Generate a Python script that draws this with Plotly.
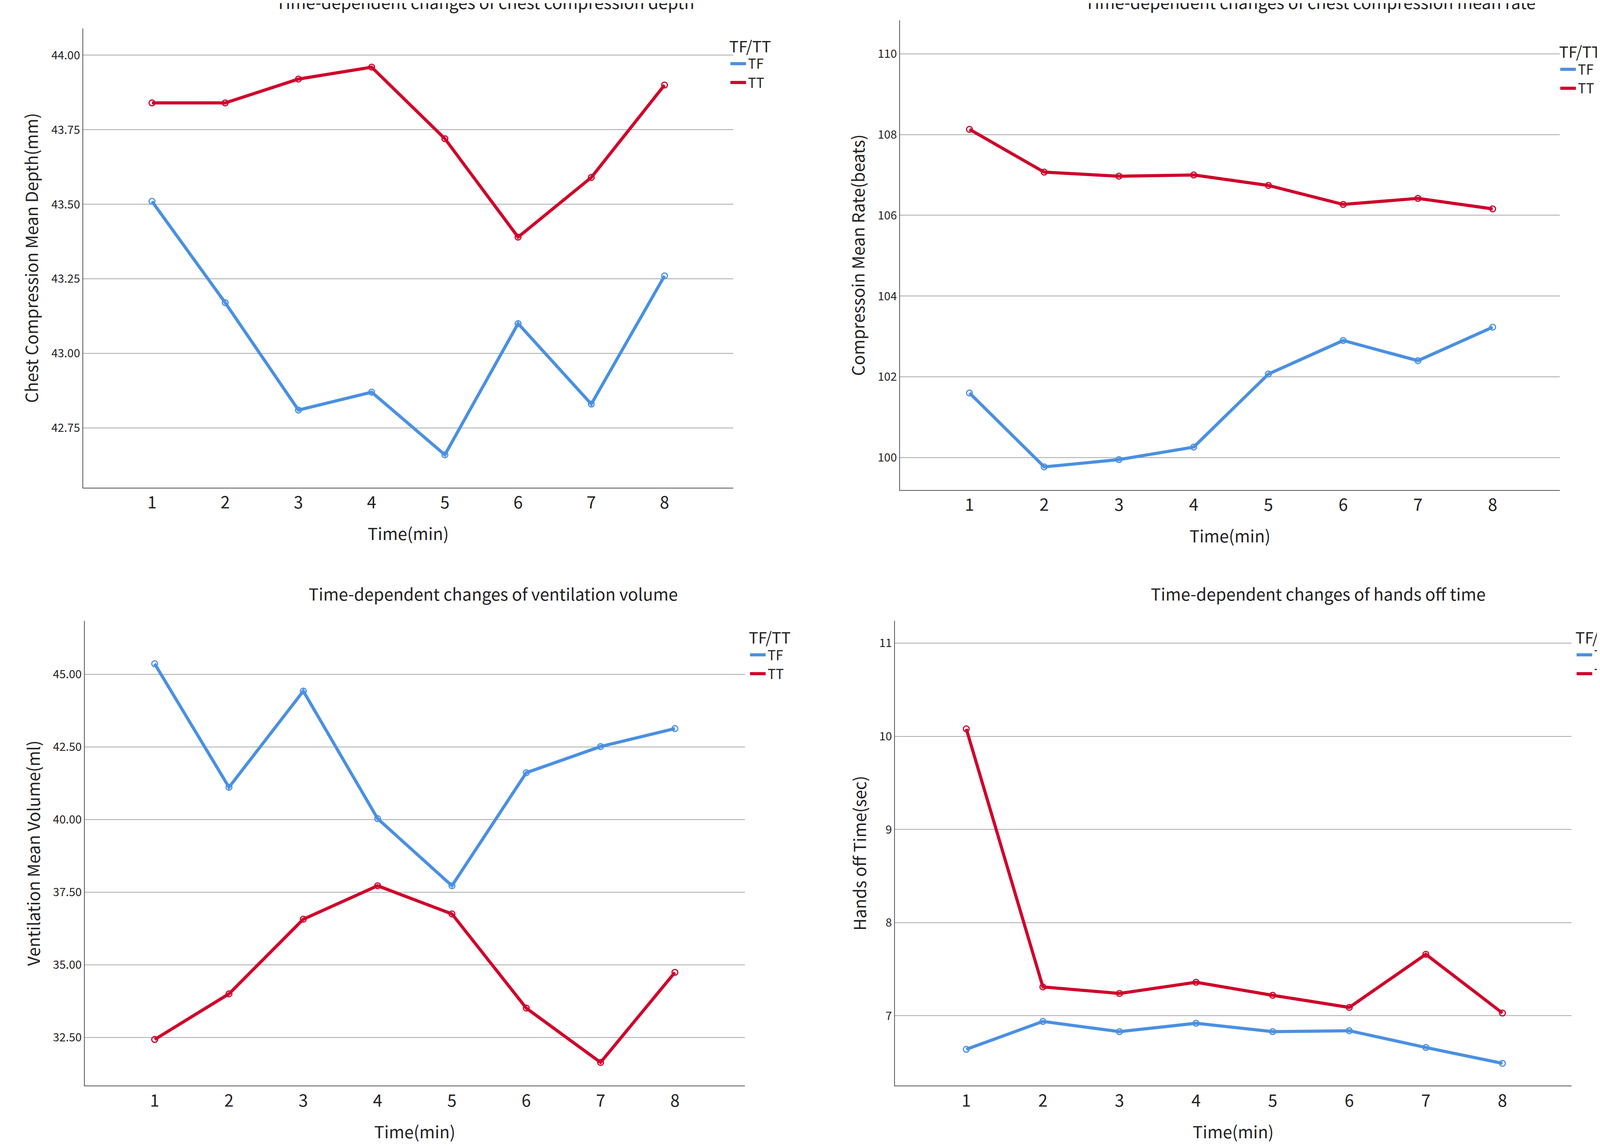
import plotly.graph_objects as go

minutes = [1, 2, 3, 4, 5, 6, 7, 8]

depth_tf = [43.51, 43.17, 42.81, 42.87, 42.66, 43.10, 42.83, 43.26]
depth_tt = [43.84, 43.84, 43.92, 43.96, 43.72, 43.39, 43.59, 43.90]
rate_tf = [101.6, 99.77, 99.95, 100.26, 102.07, 102.9, 102.4, 103.23]
rate_tt = [108.13, 107.07, 106.97, 107.0, 106.74, 106.27, 106.42, 106.16]
vent_tf = [45.36, 41.11, 44.42, 40.03, 37.72, 41.61, 42.51, 43.13]
vent_tt = [32.43, 34.0, 36.57, 37.72, 36.75, 33.51, 31.64, 34.74]
hands_tf = [6.64, 6.94, 6.83, 6.92, 6.83, 6.84, 6.66, 6.49]
hands_tt = [10.08, 7.31, 7.24, 7.36, 7.22, 7.09, 7.66, 7.03]

titles = ["Time-dependent changes of chest compression depth",
          "Time-dependent changes of chest compression mean rate",
          "Time-dependent changes of ventilation volume",
          "Time-dependent changes of hands off time"]
y_titles = ["Chest Compression Mean Depth(mm)", "Compressoin Mean Rate(beats)",
            "Ventilation Mean Volume(ml)", "Hands off Time(sec)"]

TF_COL = "#4a90e2"
TT_COL = "#d0002a"
FONT = "Noto Sans CJK KR"
S = 2.68

panels = [
    dict(tf=depth_tf, tt=depth_tt, xd=[0.049, 0.447], yd=[0.578, 0.978], xr=[0.06, 8.94], yr=[42.55, 44.09],
         tv=[42.75, 43.0, 43.25, 43.5, 43.75, 44.0], fmt=".2f", leg=(0.444, 0.975), tx=0.295, ty=0.99),
    dict(tf=rate_tf, tt=rate_tt, xd=[0.549, 0.953], yd=[0.576, 0.985], xr=[0.07, 8.9], yr=[99.2, 110.83],
         tv=[100, 102, 104, 106, 108, 110], fmt="d", leg=(0.952, 0.97), tx=0.80, ty=0.99),
    dict(tf=vent_tf, tt=vent_tt, xd=[0.05, 0.454], yd=[0.057, 0.462], xr=[0.06, 8.94], yr=[30.84, 46.84],
         tv=[32.5, 35, 37.5, 40, 42.5, 45], fmt=".2f", leg=(0.456, 0.46), tx=0.30, ty=0.475),
    dict(tf=hands_tf, tt=hands_tt, xd=[0.546, 0.960], yd=[0.057, 0.462], xr=[0.07, 8.9], yr=[6.25, 11.24],
         tv=[7, 8, 9, 10, 11], fmt="d", leg=(0.962, 0.46), tx=0.805, ty=0.475),
]

fig = go.Figure()
layout = {}
for i, p in enumerate(panels):
    n = "" if i == 0 else str(i + 1)
    leg = "legend" + n
    for name, vals, col in [("TF", p["tf"], TF_COL), ("TT", p["tt"], TT_COL)]:
        fig.add_trace(go.Scatter(x=minutes, y=vals, mode="lines", name=name,
                                 line=dict(color=col, width=8),
                                 xaxis="x" + n, yaxis="y" + n, legend=leg))
        fig.add_trace(go.Scatter(x=minutes, y=vals, mode="markers", showlegend=False,
                                 marker=dict(symbol="circle-open", color=col, size=15,
                                             line=dict(width=3)),
                                 xaxis="x" + n, yaxis="y" + n))
    layout["xaxis" + n] = dict(domain=p["xd"], range=p["xr"], anchor="y" + n, tickvals=minutes,
                               showgrid=False, zeroline=False, showline=True, linecolor="#555",
                               linewidth=2, ticks="", tickfont=dict(size=16 * S, color="#222"),
                               title=dict(text="Time(min)", font=dict(size=16 * S, color="#222"), standoff=40))
    layout["yaxis" + n] = dict(domain=p["yd"], range=p["yr"], anchor="x" + n, tickvals=p["tv"],
                               tickformat=p["fmt"], showgrid=True, gridcolor="#aaaaaa", gridwidth=2,
                               zeroline=False, showline=True, linecolor="#555", linewidth=2, ticks="",
                               tickfont=dict(size=11 * S, color="#222"),
                               title=dict(text=y_titles[i], font=dict(size=16 * S, color="#222"), standoff=20))
    layout[leg] = dict(x=p["leg"][0], y=p["leg"][1], xanchor="left", yanchor="top",
                       title=dict(text="TF/TT", font=dict(size=15 * S, color="#222")),
                       font=dict(size=13 * S, color="#222"), bgcolor="rgba(0,0,0,0)",
                       tracegroupgap=0, itemwidth=40, indentation=0)
    fig.add_annotation(text=titles[i], x=p["tx"], y=p["ty"], xref="paper", yref="paper",
                       xanchor="center", yanchor="bottom", showarrow=False,
                       font=dict(size=16 * S, color="#222"))

fig.update_layout(**layout)
fig.update_layout(width=4182, height=2940, plot_bgcolor="white", paper_bgcolor="white",
                  font=dict(family=FONT), margin=dict(l=0, r=0, t=0, b=0))

fig.write_html("out.html")
